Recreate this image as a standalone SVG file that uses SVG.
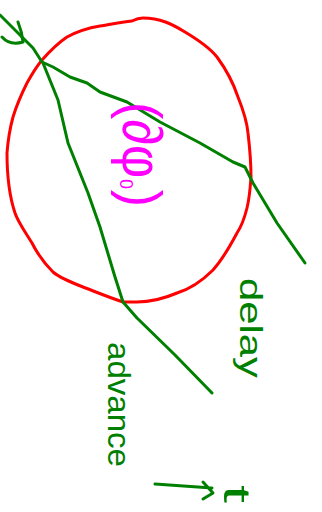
<svg xmlns="http://www.w3.org/2000/svg" width="322" height="512" viewBox="0 0 322 512">
<style>
.red{fill:none;stroke:#ff0000;stroke-width:3;stroke-linecap:round;stroke-linejoin:round}
.grn{fill:none;stroke:#008000;stroke-width:3;stroke-linecap:round;stroke-linejoin:round}
.gt{fill:#008000;font-family:"Liberation Sans",Arial,sans-serif;font-size:32px}
.mt{fill:#ff00ff;font-family:"Liberation Sans",Arial,sans-serif;font-size:56px}
</style>
<rect width="322" height="512" fill="#ffffff"/>
<g id="circle">
<path class="red" d="M132,21 C136,19 140,18 143,18 C160,18 172,24 185,32 C200,41 210,48 217,57 C228,72 234,85 238,97 C244,112 247,122 248,133 C250,150 251,165 251,177 C250,192 249,200 247,208 C244,220 241,227 237,233 C228,250 222,260 213,270 C200,283 190,289 177,293 C163,299 150,302 137,302 L123,302 C108,297 96,292 83,287 C70,282 60,278 53,272 C44,263 37,253 32,243 C24,230 18,222 15,213 C9,195 7,172 7,153 C8,140 10,128 13,117 C17,104 22,93 27,83 C32,74 37,66 42,60 C50,51 58,43 67,37 C78,31 88,28 100,26 C112,24 122,22 132,21"/>
</g>
<g id="connectors">
<path class="grn" d="M0,15 L20,35 L33,48 L42,62 L53,67 L70,77 L87,83 L100,92 L127,102 L160,122 L200,143 L233,162 L245,167 L253,183 L277,223 L305,263"/>
<path class="grn" d="M18,22 Q22,32 23,42 M2,37 Q10,46 23,42"/>
<path class="grn" d="M43,63 L58,100 L68,143 L88,193 L100,227 L115,277 L123,302 L137,318 L175,355 L212,393"/>
<path class="grn" d="M155,484 L212,488 M203,482 L213,493 L203,499"/>
</g>
<g id="label-delta-phi">
<text class="mt" transform="translate(123,102) rotate(90)" textLength="105" lengthAdjust="spacingAndGlyphs">(∂φ<tspan font-size="30px">₀</tspan>)</text>
</g>
<g id="label-delay">
<text class="gt" transform="translate(240,278) rotate(90)" textLength="100" lengthAdjust="spacingAndGlyphs">delay</text>
</g>
<g id="label-advance">
<text class="gt" transform="translate(108,342) rotate(90)" textLength="125" lengthAdjust="spacingAndGlyphs">advance</text>
</g>
<g id="label-t">
<text class="gt" style="font-size:36px" transform="translate(224,485) rotate(90)" textLength="18" lengthAdjust="spacingAndGlyphs">t</text>
</g>
</svg>
